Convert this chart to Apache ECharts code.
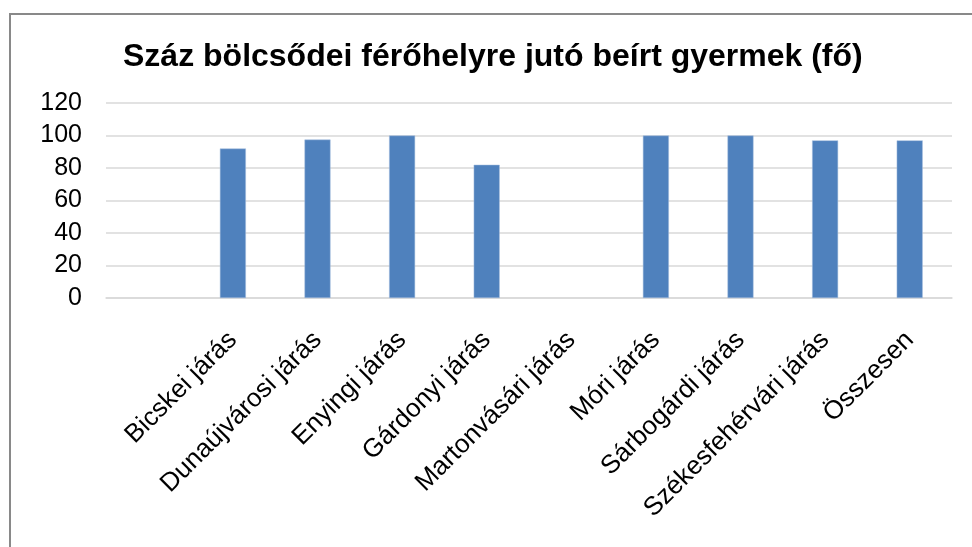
<!DOCTYPE html>
<html>
<head>
<meta charset="utf-8">
<title>Száz bölcsődei férőhelyre jutó beírt gyermek</title>
<script src="https://cdn.jsdelivr.net/npm/echarts@6/dist/echarts.min.js"></script>
<style>
  html, body { margin: 0; padding: 0; background: #fff; }
  #chart { width: 972px; height: 547px; }
</style>
</head>
<body>
<div id="chart"></div>
<script>
// adatok (a kép alapján becsülve)
var chartTitle = 'Száz bölcsődei férőhelyre jutó beírt gyermek (fő)';
var categories = ['', 'Bicskei járás', 'Dunaújvárosi járás', 'Enyingi járás', 'Gárdonyi járás',
  'Martonvásári járás', 'Móri járás', 'Sárbogárdi járás', 'Székesfehérvári járás', 'Összesen'];
var values = [null, 92, 97.5, 100, 82, null, 100, 100, 97, 97];
var yTicks = [0, 20, 40, 60, 80, 100, 120];

var font = '"Liberation Sans", Arial, sans-serif';
var chart = echarts.init(document.getElementById('chart'));

chart.setOption({
  animation: false,
  backgroundColor: '#ffffff',
  title: {
    text: chartTitle,
    left: 118,
    top: 36,
    textStyle: { fontFamily: font, fontSize: 32, fontWeight: 'bold', color: '#000' }
  },
  grid: { left: 106, right: 20, top: 103, bottom: 249 },
  xAxis: {
    type: 'category',
    data: categories,
    axisLine: { lineStyle: { color: '#d9d9d9', width: 1.5 } },
    axisTick: { show: false },
    axisLabel: {
      interval: 0,
      rotate: 45,
      margin: 38,
      fontFamily: font,
      fontSize: 26,
      color: '#000'
    }
  },
  yAxis: {
    type: 'value',
    min: yTicks[0],
    max: yTicks[yTicks.length - 1],
    interval: 20,
    axisLine: { show: false },
    axisTick: { show: false },
    splitLine: { lineStyle: { color: '#d9d9d9', width: 1.5 } },
    axisLabel: { margin: 24, fontFamily: font, fontSize: 25, color: '#000' }
  },
  series: [{
    type: 'bar',
    data: values,
    barWidth: 26,
    itemStyle: { color: '#4f81bd', borderColor: '#a7bfde', borderWidth: 0.5 }
  }],
  graphic: [{
    type: 'rect',
    shape: { x: 10, y: 14, width: 1000, height: 600 },
    style: { fill: null, stroke: '#898989', lineWidth: 2 },
    silent: true
  }]
});
</script>
</body>
</html>
